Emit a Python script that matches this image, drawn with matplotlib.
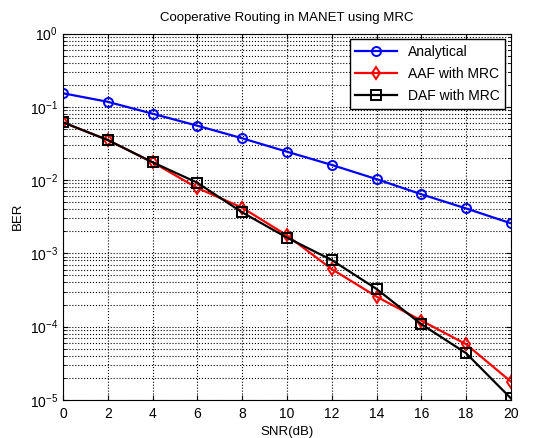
import numpy as np
import matplotlib
matplotlib.use("Agg")
import matplotlib.pyplot as plt
from matplotlib.ticker import LogLocator, NullFormatter

plt.rcParams['font.family'] = ['Liberation Sans', 'DejaVu Sans']
plt.rcParams['font.size'] = 9.5

snr = [0, 2, 4, 6, 8, 10, 12, 14, 16, 18, 20]
ber_analytical = [0.153, 0.117, 0.0805, 0.0552, 0.0372, 0.0244, 0.0161, 0.0103, 0.0064, 0.0041, 0.00257]
ber_aaf = [0.0614, 0.0352, 0.0175, 0.0078, 0.0042, 0.00176, 0.00061, 0.000257, 0.000121, 5.75e-5, 1.78e-5]
ber_daf = [0.0614, 0.0352, 0.0175, 0.0092, 0.00363, 0.00164, 0.00081, 0.000327, 0.000108, 4.34e-5, 1.05e-5]

fig = plt.figure(figsize=(5.47, 4.38), dpi=100)
ax = fig.add_axes([0.115, 0.087, 0.819, 0.8365])

ax.semilogy(snr, ber_analytical, 'b-o', lw=1.6, ms=6.5, mfc='none', mew=1.4, label='Analytical')
ax.semilogy(snr, ber_aaf, 'r-d', lw=1.6, ms=6.5, mfc='none', mew=1.4, label='AAF with MRC')
ax.semilogy(snr, ber_daf, 'k-s', lw=1.6, ms=6.5, mfc='none', mew=1.4, label='DAF with MRC')

ax.set_xlim(0, 20)
ax.set_ylim(1e-5, 1)
ax.set_xticks(snr)
ax.yaxis.set_major_locator(LogLocator(base=10, numticks=10))
ax.yaxis.set_minor_locator(LogLocator(base=10, subs=np.arange(2, 10), numticks=20))
ax.yaxis.set_minor_formatter(NullFormatter())
ax.tick_params(which='both', direction='in', top=True, right=True, labelsize=10)
ax.tick_params(axis='x', pad=5)
ax.grid(True, which='major', color='k', linestyle=':', linewidth=0.8)
ax.grid(True, which='minor', axis='y', color='k', linestyle=':', linewidth=0.8)

ax.set_title('Cooperative Routing in MANET using MRC', fontsize=9.5, pad=9)
ax.set_xlabel('SNR(dB)', labelpad=4)
ax.set_ylabel('BER')

leg = ax.legend(loc='upper right', fancybox=False, framealpha=1, edgecolor='k',
                borderaxespad=0.4, handlelength=3.0, fontsize=10, labelspacing=0.6)
leg.get_frame().set_linewidth(1.0)

fig.savefig('out.png', dpi=100)
